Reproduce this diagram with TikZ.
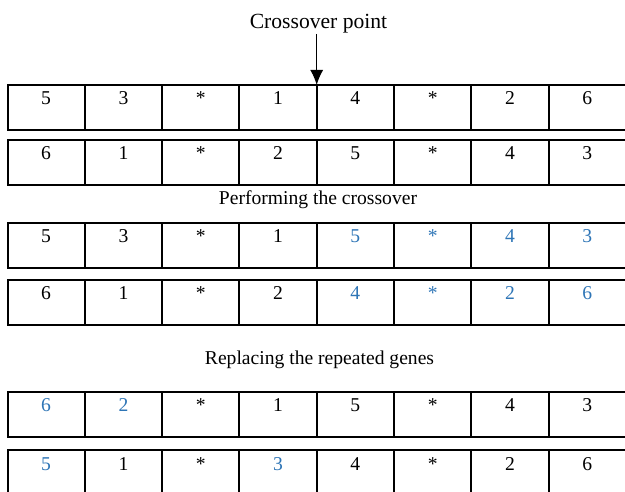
\documentclass[tikz,border=0pt]{standalone}
\usepackage{fontspec}
\setmainfont{Liberation Serif}
\usepackage{tikz}
\usetikzlibrary{arrows.meta,positioning}

\definecolor{geneblue}{RGB}{46,117,182}
\newcommand{\bl}[1]{\textcolor{geneblue}{#1}}

\tikzset{
    gene/.style={draw, line width=2pt, minimum width=77.3pt, minimum height=45pt,
        inner sep=0pt, outer sep=0pt, text height=20pt, text depth=25pt,
        font=\fontsize{19.6}{23}\selectfont},
    caption/.style={inner sep=0pt, font=\fontsize{19.6}{23}\selectfont}
}

\begin{document}
\begin{tikzpicture}[x=1pt, y=-1pt]
        \useasboundingbox (0,0) rectangle (625,492);

        % chromosome rows
        \foreach \r/\ytop/\vals in {1/85/{5,3,*,1,4,*,2,6},
                                    2/140/{6,1,*,2,5,*,4,3},
                                    3/223/{5,3,*,1,\bl{5},\bl{*},\bl{4},\bl{3}},
                                    4/280/{6,1,*,2,\bl{4},\bl{*},\bl{2},\bl{6}},
                                    5/392/{\bl{6},\bl{2},*,1,5,*,4,3},
                                    6/450/{\bl{5},1,*,\bl{3},4,*,2,6}} {
            \foreach \v [count=\c] in \vals {
                \ifnum\c=1
                    \node (r\r c\c) [gene, anchor=north west] at (7.5, \ytop) {\v};
                \else
                    \pgfmathtruncatemacro{\p}{\c-1}
                    \node (r\r c\c) [gene, right=0pt of r\r c\p] {\v};
                \fi
            }
        }

        \node (cp) [inner sep=0pt, anchor=base, font=\fontsize{21.6}{25}\selectfont] at (318.5, 29) {Crossover point};
        \node (perf) [caption] at (318, 200) {Performing the crossover};
        \node (repl) [caption] at (319.5, 360) {Replacing the repeated genes};

        \draw[-{Latex[length=15pt, width=13pt]}, line width=1.3pt] (cp.south -| r1c4.north east) -- (r1c4.north east);
    \end{tikzpicture}
\end{document}
